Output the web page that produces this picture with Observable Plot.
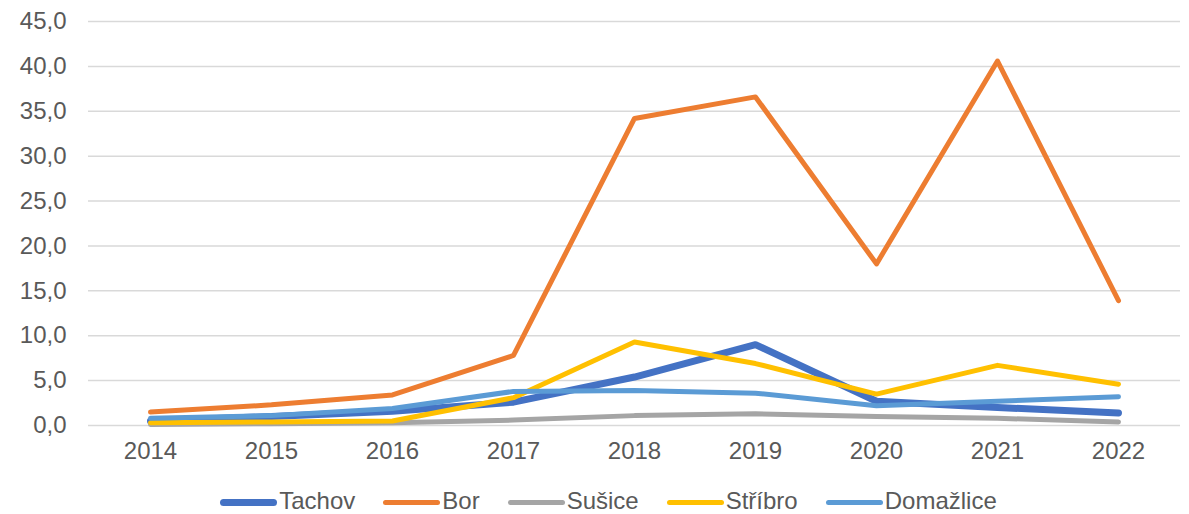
<!DOCTYPE html>
<html>
<head>
<meta charset="utf-8">
<script src="https://cdn.jsdelivr.net/npm/d3@7"></script>
<script src="https://cdn.jsdelivr.net/npm/@observablehq/plot@0.6"></script>
<style>
  html, body { margin: 0; padding: 0; background: #fff; overflow: hidden; }
  body { width: 1189px; height: 514px; position: relative; font-family: "Liberation Sans", Arial, sans-serif; }
  #legend { position: absolute; left: 0; top: 487px; width: 1189px; display: flex; justify-content: center; align-items: flex-start; padding-left: 28px; box-sizing: border-box; font-size: 24px; line-height: 27px; color: #595959; white-space: nowrap; }
  .item { display: flex; align-items: flex-start; margin: 0 14px; }
  .sw { width: 57px; border-radius: 4px; margin-right: 2px; }
</style>
</head>
<body>
<div id="chart"></div>
<div id="legend"></div>
<script>
const years = [2014, 2015, 2016, 2017, 2018, 2019, 2020, 2021, 2022];
const seriesNames = ["Tachov", "Bor", "Sušice", "Stříbro", "Domažlice"];
const colors = ["#4472C4", "#ED7D31", "#A5A5A5", "#FFC000", "#5B9BD5"];
const widths = [7, 5, 5, 5, 5];
const tachov    = [0.5, 1.0, 1.6, 2.6, 5.4, 9.0, 2.7, 2.0, 1.4];
const bor       = [1.5, 2.3, 3.4, 7.8, 34.2, 36.6, 18.0, 40.6, 13.9];
const susice    = [0.1, 0.2, 0.3, 0.6, 1.1, 1.3, 1.0, 0.8, 0.4];
const stribro   = [0.3, 0.4, 0.5, 3.1, 9.3, 6.9, 3.5, 6.7, 4.6];
const domazlice = [0.8, 1.1, 1.9, 3.8, 3.9, 3.6, 2.2, 2.7, 3.2];
const yTicks = [0, 5, 10, 15, 20, 25, 30, 35, 40, 45];

const allSeries = [tachov, bor, susice, stribro, domazlice];
const fmt = d => d.toFixed(1).replace(".", ",");

const lineMarks = allSeries.map((vals, i) =>
  Plot.line(years.map((y, j) => ({year: String(y), value: vals[j]})), {
    x: "year", y: "value", stroke: colors[i], strokeWidth: widths[i],
    strokeLinecap: "round", strokeLinejoin: "round"
  })
);

const chart = Plot.plot({
  width: 1189,
  height: 475,
  marginTop: 21,
  marginBottom: 50,
  marginLeft: 88,
  marginRight: 9,
  style: { fontFamily: "'Liberation Sans', Arial, sans-serif", fontSize: "24px", color: "#595959", background: "#fff" },
  x: { type: "point", domain: years.map(String), padding: 0.5, label: null },
  y: { domain: [0, 45], ticks: yTicks, label: null },
  marks: [
    Plot.gridY(yTicks, { stroke: "#d9d9d9", strokeOpacity: 1, strokeWidth: 1.5 }),
    Plot.axisY(yTicks, { tickSize: 0, tickPadding: 22, tickFormat: fmt, fill: "#595959", fontSize: 24 }),
    Plot.axisX({ tickSize: 0, tickPadding: 16, fill: "#595959", fontSize: 24 }),
    ...lineMarks
  ]
});
document.getElementById("chart").appendChild(chart);

const legend = document.getElementById("legend");
seriesNames.forEach((name, i) => {
  const item = document.createElement("div");
  item.className = "item";
  const sw = document.createElement("div");
  sw.className = "sw";
  sw.style.background = colors[i];
  sw.style.height = widths[i] + "px";
  sw.style.marginTop = (15.5 - widths[i] / 2) + "px";
  const t = document.createElement("span");
  t.textContent = name;
  item.appendChild(sw);
  item.appendChild(t);
  legend.appendChild(item);
});
</script>
</body>
</html>
